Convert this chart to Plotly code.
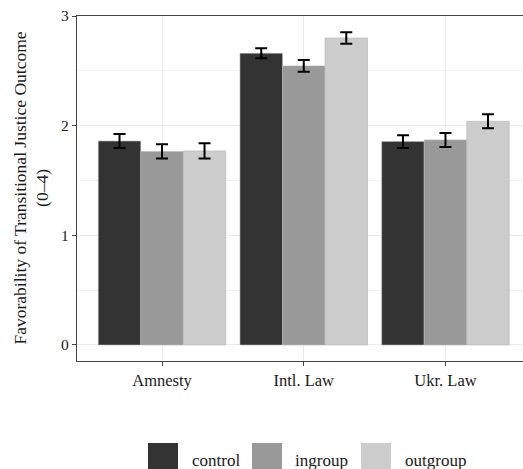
import plotly.graph_objects as go

# Survey outcome means with standard errors, by treatment group
categories = ["Amnesty", "Intl. Law", "Ukr. Law"]
groups = ["control", "ingroup", "outgroup"]
means = {
    "control": [1.86, 2.66, 1.855],
    "ingroup": [1.765, 2.545, 1.87],
    "outgroup": [1.77, 2.80, 2.04],
}
errors = {
    "control": [0.064, 0.045, 0.058],
    "ingroup": [0.065, 0.053, 0.064],
    "outgroup": [0.07, 0.052, 0.064],
}
colors = {"control": "#333333", "ingroup": "#999999", "outgroup": "#cccccc"}

W, H = 523, 469
ML, MR, MT, MB = 77, 0, 16, 108
PW, PH = W - ML - MR, H - MT - MB
FONT = "Liberation Serif"


def px_x(px):
    return (px - ML) / PW


def px_y(py):
    return (H - MB - py) / PH


fig = go.Figure()
for g in groups:
    fig.add_trace(go.Bar(
        x=[1, 2, 3],
        y=means[g],
        name=g,
        marker=dict(color=colors[g], line=dict(color="#b5b5b5", width=0.6)),
        error_y=dict(type="data", array=errors[g], color="black",
                     thickness=2, width=6),
        showlegend=False,
    ))

# bottom legend: square swatches with labels
legend_items = [(148, 190), (252, 293), (361, 402.5)]
for g, (sx, tx) in zip(groups, legend_items):
    fig.add_shape(type="rect", xref="paper", yref="paper",
                  x0=px_x(sx), x1=px_x(sx + 30), y0=px_y(443), y1=px_y(473),
                  fillcolor=colors[g], line=dict(width=0))
    fig.add_annotation(text=g, xref="paper", yref="paper",
                       x=px_x(tx), y=px_y(460), xanchor="left", yanchor="middle",
                       showarrow=False, font=dict(family=FONT, size=17, color="#1a1a1a"))

fig.add_annotation(
    text="Favorability of Transitional Justice Outcome<br>(0–4)",
    xref="paper", yref="paper", x=px_x(31), y=0.5,
    xanchor="center", yanchor="middle", textangle=-90, showarrow=False,
    font=dict(family=FONT, size=17.5, color="#1a1a1a"),
)

fig.update_layout(
    width=W, height=H,
    margin=dict(l=ML, r=MR, t=MT, b=MB, pad=0),
    paper_bgcolor="white", plot_bgcolor="white",
    barmode="group", bargap=0.1, bargroupgap=0,
    font=dict(family=FONT, size=15, color="#1a1a1a"),
)
fig.update_xaxes(
    range=[0.4, 3.547], tickvals=[1, 2, 3], ticktext=categories,
    showline=True, linecolor="#444444", linewidth=1.2, mirror=True,
    ticks="outside", ticklen=4, tickcolor="#444444", tickwidth=1.2,
    showgrid=True, gridcolor="#ebebeb", gridwidth=1.2,
    tickfont=dict(family=FONT, size=16.5, color="#1a1a1a"), zeroline=False,
)
fig.update_yaxes(
    range=[-0.146, 3.0], tickvals=[0, 1, 2, 3],
    showline=True, linecolor="#444444", linewidth=1.2,
    ticks="outside", ticklen=4, tickcolor="#444444", tickwidth=1.2,
    showgrid=True, gridcolor="#ebebeb", gridwidth=1.2,
    minor=dict(dtick=0.5, showgrid=True, gridcolor="#f2f2f2", gridwidth=0.8),
    tickfont=dict(family=FONT, size=15.5, color="#1a1a1a"), zeroline=False,
)

fig.write_html("out.html")
